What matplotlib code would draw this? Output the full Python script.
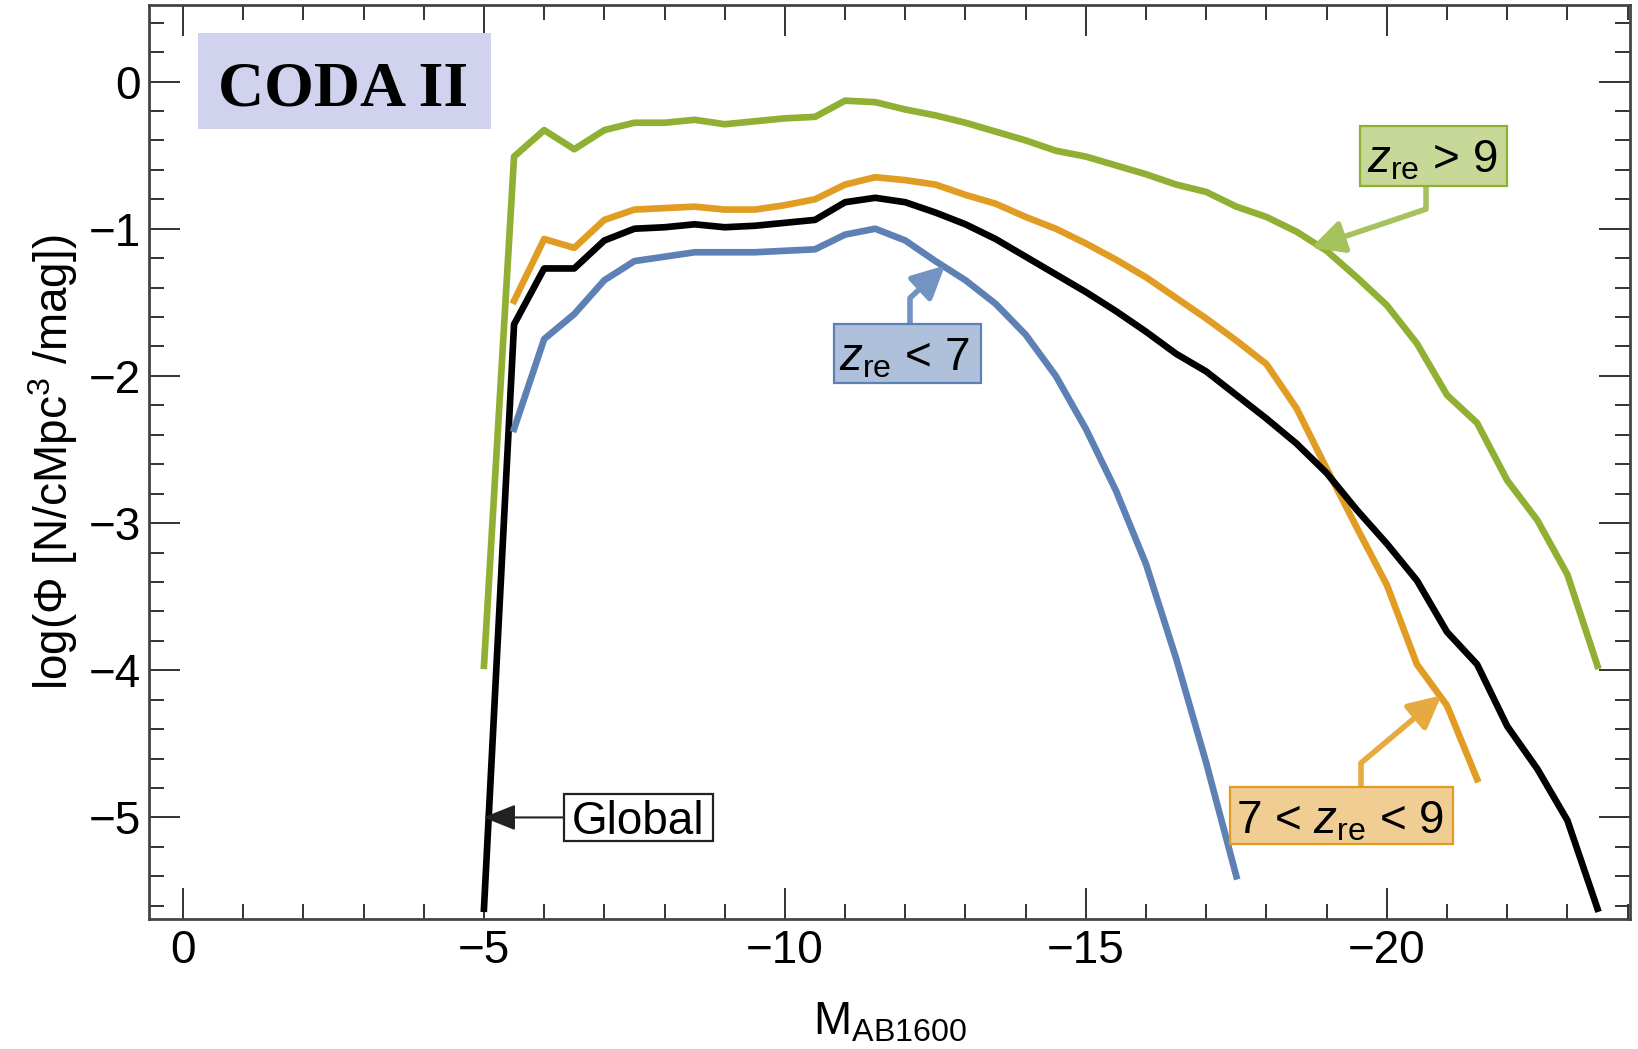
import matplotlib
matplotlib.use("Agg")
import matplotlib.pyplot as plt
from matplotlib.patches import Rectangle
from matplotlib.ticker import MultipleLocator

plt.rcParams['font.family'] = ['Liberation Sans', 'DejaVu Sans']
plt.rcParams['mathtext.fontset'] = 'custom'
plt.rcParams['mathtext.rm'] = 'Liberation Sans'
plt.rcParams['mathtext.it'] = 'Liberation Sans:italic'

# ---------------- data ----------------
mag_green = [-5.0, -5.5, -6.0, -6.5, -7.0, -7.5, -8.0, -8.5, -9.0, -9.5, -10.0, -10.5,
             -11.0, -11.5, -12.0, -12.5, -13.0, -13.5, -14.0, -14.5, -15.0, -15.5,
             -16.0, -16.5, -17.0, -17.5, -18.0, -18.5, -19.0, -19.5, -20.0, -20.5,
             -21.0, -21.5, -22.0, -22.5, -23.0, -23.5]
phi_green = [-3.97, -0.51, -0.33, -0.46, -0.33, -0.28, -0.28, -0.26, -0.29, -0.27, -0.25, -0.24,
             -0.13, -0.14, -0.19, -0.23, -0.28, -0.34, -0.40, -0.47, -0.51, -0.57,
             -0.63, -0.70, -0.75, -0.85, -0.92, -1.02, -1.15, -1.33, -1.52, -1.78,
             -2.13, -2.32, -2.71, -2.98, -3.35, -3.97]

mag_orange = [-5.5, -6.0, -6.5, -7.0, -7.5, -8.0, -8.5, -9.0, -9.5, -10.0, -10.5,
              -11.0, -11.5, -12.0, -12.5, -13.0, -13.5, -14.0, -14.5, -15.0, -15.5,
              -16.0, -16.5, -17.0, -17.5, -18.0, -18.5, -19.0, -19.5, -20.0, -20.5,
              -21.0, -21.5]
phi_orange = [-1.49, -1.07, -1.13, -0.94, -0.87, -0.86, -0.85, -0.87, -0.87, -0.84, -0.80,
              -0.70, -0.65, -0.67, -0.70, -0.77, -0.83, -0.92, -1.00, -1.10, -1.21,
              -1.33, -1.47, -1.61, -1.76, -1.92, -2.22, -2.63, -3.03, -3.42, -3.96,
              -4.24, -4.74]

mag_global = [-5.0, -5.5, -6.0, -6.5, -7.0, -7.5, -8.0, -8.5, -9.0, -9.5, -10.0, -10.5,
              -11.0, -11.5, -12.0, -12.5, -13.0, -13.5, -14.0, -14.5, -15.0, -15.5,
              -16.0, -16.5, -17.0, -17.5, -18.0, -18.5, -19.0, -19.5, -20.0, -20.5,
              -21.0, -21.5, -22.0, -22.5, -23.0, -23.5]
phi_global = [-5.62, -1.65, -1.27, -1.27, -1.08, -1.00, -0.99, -0.97, -0.99, -0.98, -0.96, -0.94,
               -0.82, -0.79, -0.82, -0.89, -0.97, -1.07, -1.19, -1.31, -1.43, -1.56,
               -1.70, -1.85, -1.97, -2.13, -2.29, -2.46, -2.66, -2.91, -3.14, -3.39,
               -3.74, -3.96, -4.38, -4.67, -5.02, -5.62]

mag_blue = [-5.5, -6.0, -6.5, -7.0, -7.5, -8.0, -8.5, -9.0, -9.5, -10.0, -10.5,
            -11.0, -11.5, -12.0, -12.5, -13.0, -13.5, -14.0, -14.5, -15.0, -15.5,
            -16.0, -16.5, -17.0, -17.5]
phi_blue = [-2.36, -1.75, -1.58, -1.35, -1.22, -1.19, -1.16, -1.16, -1.16, -1.15, -1.14,
            -1.04, -1.00, -1.08, -1.22, -1.35, -1.51, -1.72, -2.00, -2.36, -2.78,
            -3.28, -3.92, -4.63, -5.40]

x_ticks = [0, -5, -10, -15, -20]
y_ticks = [0, -1, -2, -3, -4, -5]

C_BLUE = '#5E81B5'
C_ORANGE = '#E19C24'
C_GREEN = '#8FB032'
C_BLACK = '#000000'

# ---------------- figure ----------------
fig = plt.figure(figsize=(16.38, 10.49), dpi=100)
ax = fig.add_axes([149 / 1638, 1 - 919 / 1049, (1630 - 149) / 1638, (919 - 5) / 1049])

lw = 4.8
ax.plot(mag_green, phi_green, color=C_GREEN, lw=lw, zorder=3)
ax.plot(mag_orange, phi_orange, color=C_ORANGE, lw=lw, zorder=3)
ax.plot(mag_global, phi_global, color=C_BLACK, lw=lw, zorder=3)
ax.plot(mag_blue, phi_blue, color=C_BLUE, lw=lw, zorder=3)

ax.set_xlim(0.565, -24.04)
ax.set_ylim(-5.69, 0.52)

ax.set_xticks(x_ticks)
ax.set_yticks(y_ticks)
ax.xaxis.set_minor_locator(MultipleLocator(1))
ax.yaxis.set_minor_locator(MultipleLocator(0.2))
tick_col = '#333333'
ax.tick_params(which='both', direction='in', top=True, right=True, color=tick_col,
               width=1.4, labelsize=33)
ax.tick_params(which='major', length=22)
ax.tick_params(which='minor', length=11)
ax.tick_params(axis='x', pad=7)
ax.tick_params(axis='y', pad=6)
for s in ax.spines.values():
    s.set_color('#444444')
    s.set_linewidth(2.0)

ax.set_xlabel(r'M$_{\rm AB1600}$', fontsize=33, labelpad=20)
ax.set_ylabel(r'log($\Phi$ [N/cMpc$^{3}$ /mag])', fontsize=33, labelpad=6)


def box(x0, x1, y0, y1, fc, ec, lw=1.6):
    ax.add_patch(Rectangle((x0, y0), x1 - x0, y1 - y0, facecolor=fc, edgecolor=ec,
                           linewidth=lw, zorder=5, clip_on=False))


# CODA II label
box(-0.25, -5.12, -0.323, 0.33, '#D0D2EE', 'none', lw=0)
ax.text(-2.66, -0.16, 'CODA II', family=['Liberation Serif', 'DejaVu Serif'],
        weight='bold', fontsize=46, ha='center', va='baseline', zorder=6)

# z_re < 7
box(-10.81, -13.26, -2.05, -1.649, '#AEC0DA', C_BLUE)
ax.text(-11.98, -1.96, r'$z_{\rm re}$ < 7', fontsize=33, ha='center', va='baseline', zorder=6)
ax.plot([-12.08, -12.08], [-1.649, -1.47], color='#7393C2', lw=4, zorder=4, solid_capstyle='butt')
ax.annotate('', xy=(-12.66, -1.25), xytext=(-12.08, -1.47),
            arrowprops=dict(arrowstyle='-|>,head_length=0.9,head_width=0.45', color='#7393C2',
                            lw=4, shrinkA=0, shrinkB=0, mutation_scale=22), zorder=4)

# z_re > 9
box(-19.55, -21.99, -0.71, -0.303, '#C7D898', C_GREEN)
ax.text(-20.75, -0.615, r'$z_{\rm re}$ > 9', fontsize=33, ha='center', va='baseline', zorder=6)
ax.plot([-20.65, -20.65], [-0.71, -0.867], color='#A6C25E', lw=4, zorder=4, solid_capstyle='butt')
ax.annotate('', xy=(-18.74, -1.13), xytext=(-20.65, -0.867),
            arrowprops=dict(arrowstyle='-|>,head_length=0.9,head_width=0.45', color='#A6C25E',
                            lw=4, shrinkA=0, shrinkB=0, mutation_scale=22), zorder=4)

# 7 < z_re < 9
box(-17.39, -21.10, -5.18, -4.79, '#F0CD92', C_ORANGE)
ax.text(-19.22, -5.11, r'7 < $z_{\rm re}$ < 9', fontsize=33, ha='center', va='baseline', zorder=6)
ax.plot([-19.57, -19.57], [-4.79, -4.63], color='#E6AA40', lw=4, zorder=4, solid_capstyle='butt')
ax.annotate('', xy=(-20.91, -4.17), xytext=(-19.57, -4.63),
            arrowprops=dict(arrowstyle='-|>,head_length=0.9,head_width=0.45', color='#E6AA40',
                            lw=4, shrinkA=0, shrinkB=0, mutation_scale=22), zorder=4)

# Global
box(-6.33, -8.80, -5.16, -4.84, 'white', '#222222', lw=1.6)
ax.text(-7.56, -5.11, 'Global', fontsize=33, ha='center', va='baseline', zorder=6)
ax.annotate('', xy=(-4.99, -5.0), xytext=(-6.33, -5.0),
            arrowprops=dict(arrowstyle='-|>,head_length=1.0,head_width=0.4', color='#222222',
                            lw=1.5, shrinkA=0, shrinkB=0, mutation_scale=20), zorder=6)

fig.savefig('out.png', dpi=100)
